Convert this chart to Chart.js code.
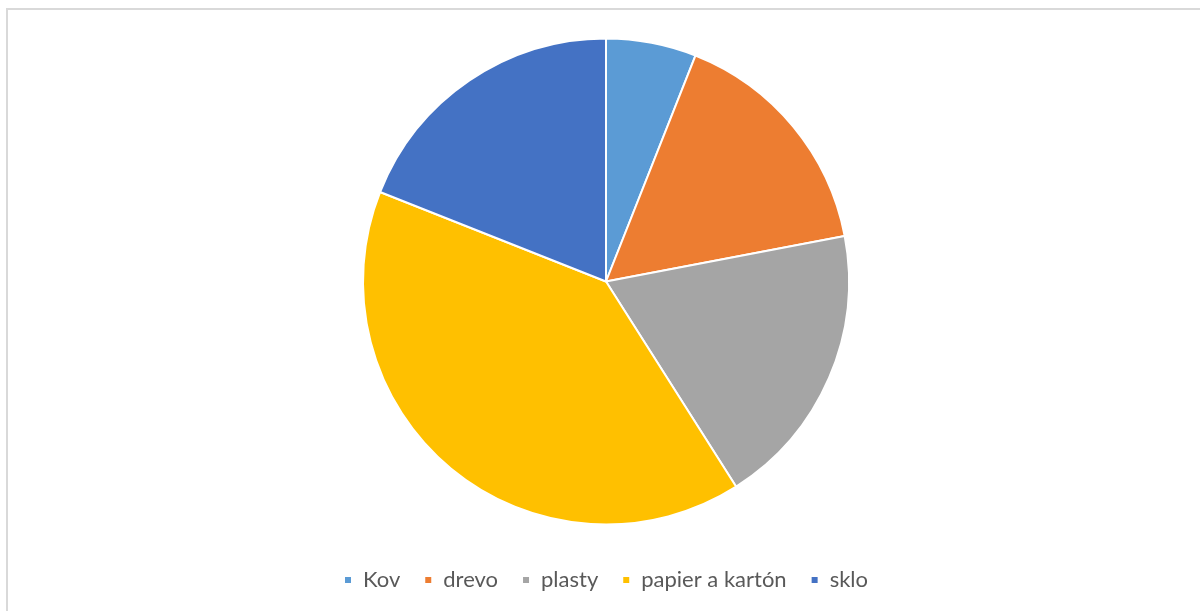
<!DOCTYPE html>
<html>
<head>
<meta charset="utf-8">
<script src="https://cdn.jsdelivr.net/npm/chart.js@4/dist/chart.umd.min.js"></script>
<style>
  html, body { margin: 0; padding: 0; background: #fff; }
  body { width: 1200px; height: 611px; position: relative; overflow: hidden; }
  #frame {
    position: absolute; left: 6px; top: 8px; width: 1200px; height: 620px;
    border: 2px solid #d9d9d9; box-sizing: border-box;
  }
  #wrap { position: absolute; left: 0; top: 0; width: 1200px; height: 611px; }
</style>
</head>
<body>
<div id="frame"></div>
<div id="wrap"><canvas id="pieChart"></canvas></div>
<script>
  // Categories and values (share in %)
  const categories = ["Kov", "drevo", "plasty", "papier a kartón", "sklo"];
  const values = [6, 16, 19, 40, 19];
  const colors = ["#5b9bd5", "#ed7d31", "#a5a5a5", "#ffc000", "#4472c4"];

  const ctx = document.getElementById("pieChart").getContext("2d");

  new Chart(ctx, {
    type: "pie",
    data: {
      labels: categories,
      datasets: [
        {
          data: values,
          backgroundColor: colors,
          borderColor: "#ffffff",
          borderWidth: 2,
          radius: 243,
        },
      ],
    },
    options: {
      responsive: true,
      maintainAspectRatio: false,
      animation: false,
      layout: {
        padding: { top: 18, bottom: 10, left: 12, right: 0 },
      },
      plugins: {
        tooltip: { enabled: false },
        legend: {
          position: "bottom",
          labels: {
            boxWidth: 8,
            boxHeight: 8,
            padding: 24,
            color: "#595959",
            font: { family: "Lato", size: 22 },
          },
        },
      },
    },
  });
</script>
</body>
</html>
